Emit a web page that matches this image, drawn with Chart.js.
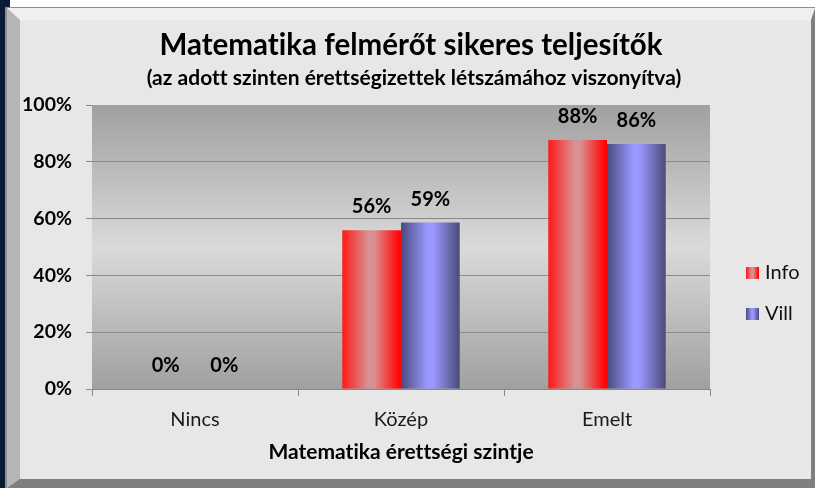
<!DOCTYPE html>
<html><head><meta charset="utf-8">
<script src="https://cdn.jsdelivr.net/npm/chart.js@4.4.0/dist/chart.umd.min.js"></script>
<style>
html,body{margin:0;padding:0;width:815px;height:488px;overflow:hidden;background:#fff;}
#navy{position:absolute;left:0;top:0;width:5px;height:488px;background:#0a1a35;}
#navyTop{position:absolute;left:0;top:0;width:10px;height:7px;background:#0a1a35;}
#outer{position:absolute;left:5px;top:7px;width:810px;height:481px;box-sizing:border-box;border-top:1px solid #8e8e8e;border-left:2px solid #8e8e8e;}
#frame{position:absolute;left:0;top:0;right:0;bottom:0;box-sizing:border-box;border-top:12px solid #efefef;border-left:13px solid #b5b5b5;border-right:4px solid #7f7f7f;border-bottom:9px solid #7f7f7f;background:#e7e7e7;}
#c{position:absolute;left:0;top:0;}
</style></head>
<body>
<div id="navy"></div><div id="navyTop"></div>
<div id="outer"><div id="frame"></div></div>
<canvas id="c" width="815" height="488"></canvas>
<script>
const categories = ['Nincs', 'Közép', 'Emelt'];
const seriesNames = ['Info', 'Vill'];
const infoValues = [0, 55.9, 87.7];
const villValues = [0, 58.6, 86.3];
const yTickLabels = ['0%', '20%', '40%', '60%', '80%', '100%'];
const titleText = 'Matematika felmérőt sikeres teljesítők';
const subtitleText = '(az adott szinten érettségizettek létszámához viszonyítva)';
const xTitleText = 'Matematika érettségi szintje';

const FONT = 'Lato';
const CAT_PCT = 0.57;
const infoStops = [[0, '#ff1818'], [0.45, '#d89393'], [0.55, '#da8f8f'], [0.92, '#ff1010'], [1, '#ff0000']];
const villStops = [[0, '#4a4a7c'], [0.45, '#9999ff'], [0.55, '#9999ff'], [1, '#4a4a78']];

function makeGrad(ctx2d, x0, x1, stops) {
  const g = ctx2d.createLinearGradient(x0, 0, x1, 0);
  stops.forEach(s => g.addColorStop(s[0], s[1]));
  return g;
}
function barGradient(stops, side) {
  return function (ctx) {
    const chart = ctx.chart;
    const xs = chart.scales && chart.scales.x;
    if (!xs || ctx.dataIndex === undefined || !chart.chartArea) return stops[1][1];
    const c = xs.getPixelForValue(ctx.dataIndex);
    const catW = xs.width / categories.length;
    const bw = catW * CAT_PCT / 2;
    const left = side === 0 ? c - bw : c;
    return makeGrad(chart.ctx, left, left + bw, stops);
  };
}

const plotBg = {
  id: 'plotBg',
  beforeDraw(chart) {
    const { ctx, chartArea: a } = chart;
    try { ctx.letterSpacing = '0.01px'; } catch (e) {}
    const g = ctx.createLinearGradient(0, a.top, 0, a.bottom);
    g.addColorStop(0, '#a0a0a0');
    g.addColorStop(0.5, '#dadada');
    g.addColorStop(1, '#a0a0a0');
    ctx.save();
    ctx.fillStyle = g;
    ctx.fillRect(a.left, a.top, a.right - a.left, a.bottom - a.top);
    ctx.restore();
  }
};

const valueLabels = {
  id: 'valueLabels',
  afterDatasetsDraw(chart) {
    const ctx = chart.ctx;
    ctx.save();
    ctx.font = 'bold 20px ' + FONT;
    ctx.fillStyle = '#000';
    ctx.textAlign = 'center';
    ctx.textBaseline = 'alphabetic';
    chart.data.datasets.forEach((ds, di) => {
      chart.getDatasetMeta(di).data.forEach((el, i) => {
        ctx.fillText(Math.round(ds.data[i]) + '%', el.x, el.y - 17);
      });
    });
    ctx.restore();
  }
};

const titles = {
  id: 'titles',
  afterDraw(chart) {
    const ctx = chart.ctx;
    ctx.save();
    ctx.fillStyle = '#000';
    ctx.textAlign = 'center';
    ctx.textBaseline = 'alphabetic';
    ctx.font = 'bold 29.5px ' + FONT;
    ctx.fillText(titleText, 411, 55);
    ctx.font = 'bold 21px ' + FONT;
    ctx.fillText(subtitleText, 414, 85);
    ctx.restore();
  }
};

const legendBox = {
  id: 'legendBox',
  afterDraw(chart) {
    const ctx = chart.ctx;
    const stopsList = [infoStops, villStops];
    const ys = [267, 308];
    ctx.save();
    chart.data.datasets.forEach((ds, di) => {
      const x = 746, y = ys[di];
      ctx.fillStyle = makeGrad(ctx, x, x + 13, stopsList[di]);
      ctx.fillRect(x, y, 13, 12);
      ctx.fillStyle = '#111';
      ctx.font = '20px ' + FONT;
      ctx.textAlign = 'left';
      ctx.textBaseline = 'alphabetic';
      ctx.fillText(ds.label, 765, y + 12);
    });
    ctx.restore();
  }
};

new Chart(document.getElementById('c'), {
  type: 'bar',
  data: {
    labels: categories,
    datasets: [
      { label: seriesNames[0], data: infoValues, backgroundColor: barGradient(infoStops, 0), borderWidth: 0 },
      { label: seriesNames[1], data: villValues, backgroundColor: barGradient(villStops, 1), borderWidth: 0 }
    ]
  },
  options: {
    responsive: false,
    animation: false,
    devicePixelRatio: 1,
    categoryPercentage: CAT_PCT,
    barPercentage: 1.0,
    layout: { padding: { left: 20, right: 105, top: 105, bottom: 23 } },
    plugins: { legend: { display: false }, title: { display: false }, tooltip: { enabled: false } },
    scales: {
      x: {
        offset: true,
        grid: { display: true, drawOnChartArea: false, offset: true, tickLength: 7, color: '#888' },
        border: { color: '#888' },
        ticks: { font: { family: FONT, size: 20 }, color: '#1a1a1a', padding: 12 },
        title: { display: true, text: xTitleText, font: { family: FONT, size: 21, weight: 'bold' }, color: '#000', padding: 0 },
        afterFit(s) { s.height = 76; }
      },
      y: {
        min: 0, max: 100,
        ticks: {
          stepSize: 20,
          callback: (v) => yTickLabels[Math.round(v / 20)],
          font: { family: FONT, size: 19.5, weight: 'bold' }, color: '#000', padding: 14
        },
        grid: {
          color: (c) => (c.tick && c.tick.value === 100) ? 'rgba(0,0,0,0)' : '#8a8a8a',
          tickColor: '#8a8a8a', tickLength: 6
        },
        border: { display: false },
        afterFit(s) { s.width = 72; }
      }
    }
  },
  plugins: [plotBg, valueLabels, titles, legendBox]
});
</script>
</body></html>
